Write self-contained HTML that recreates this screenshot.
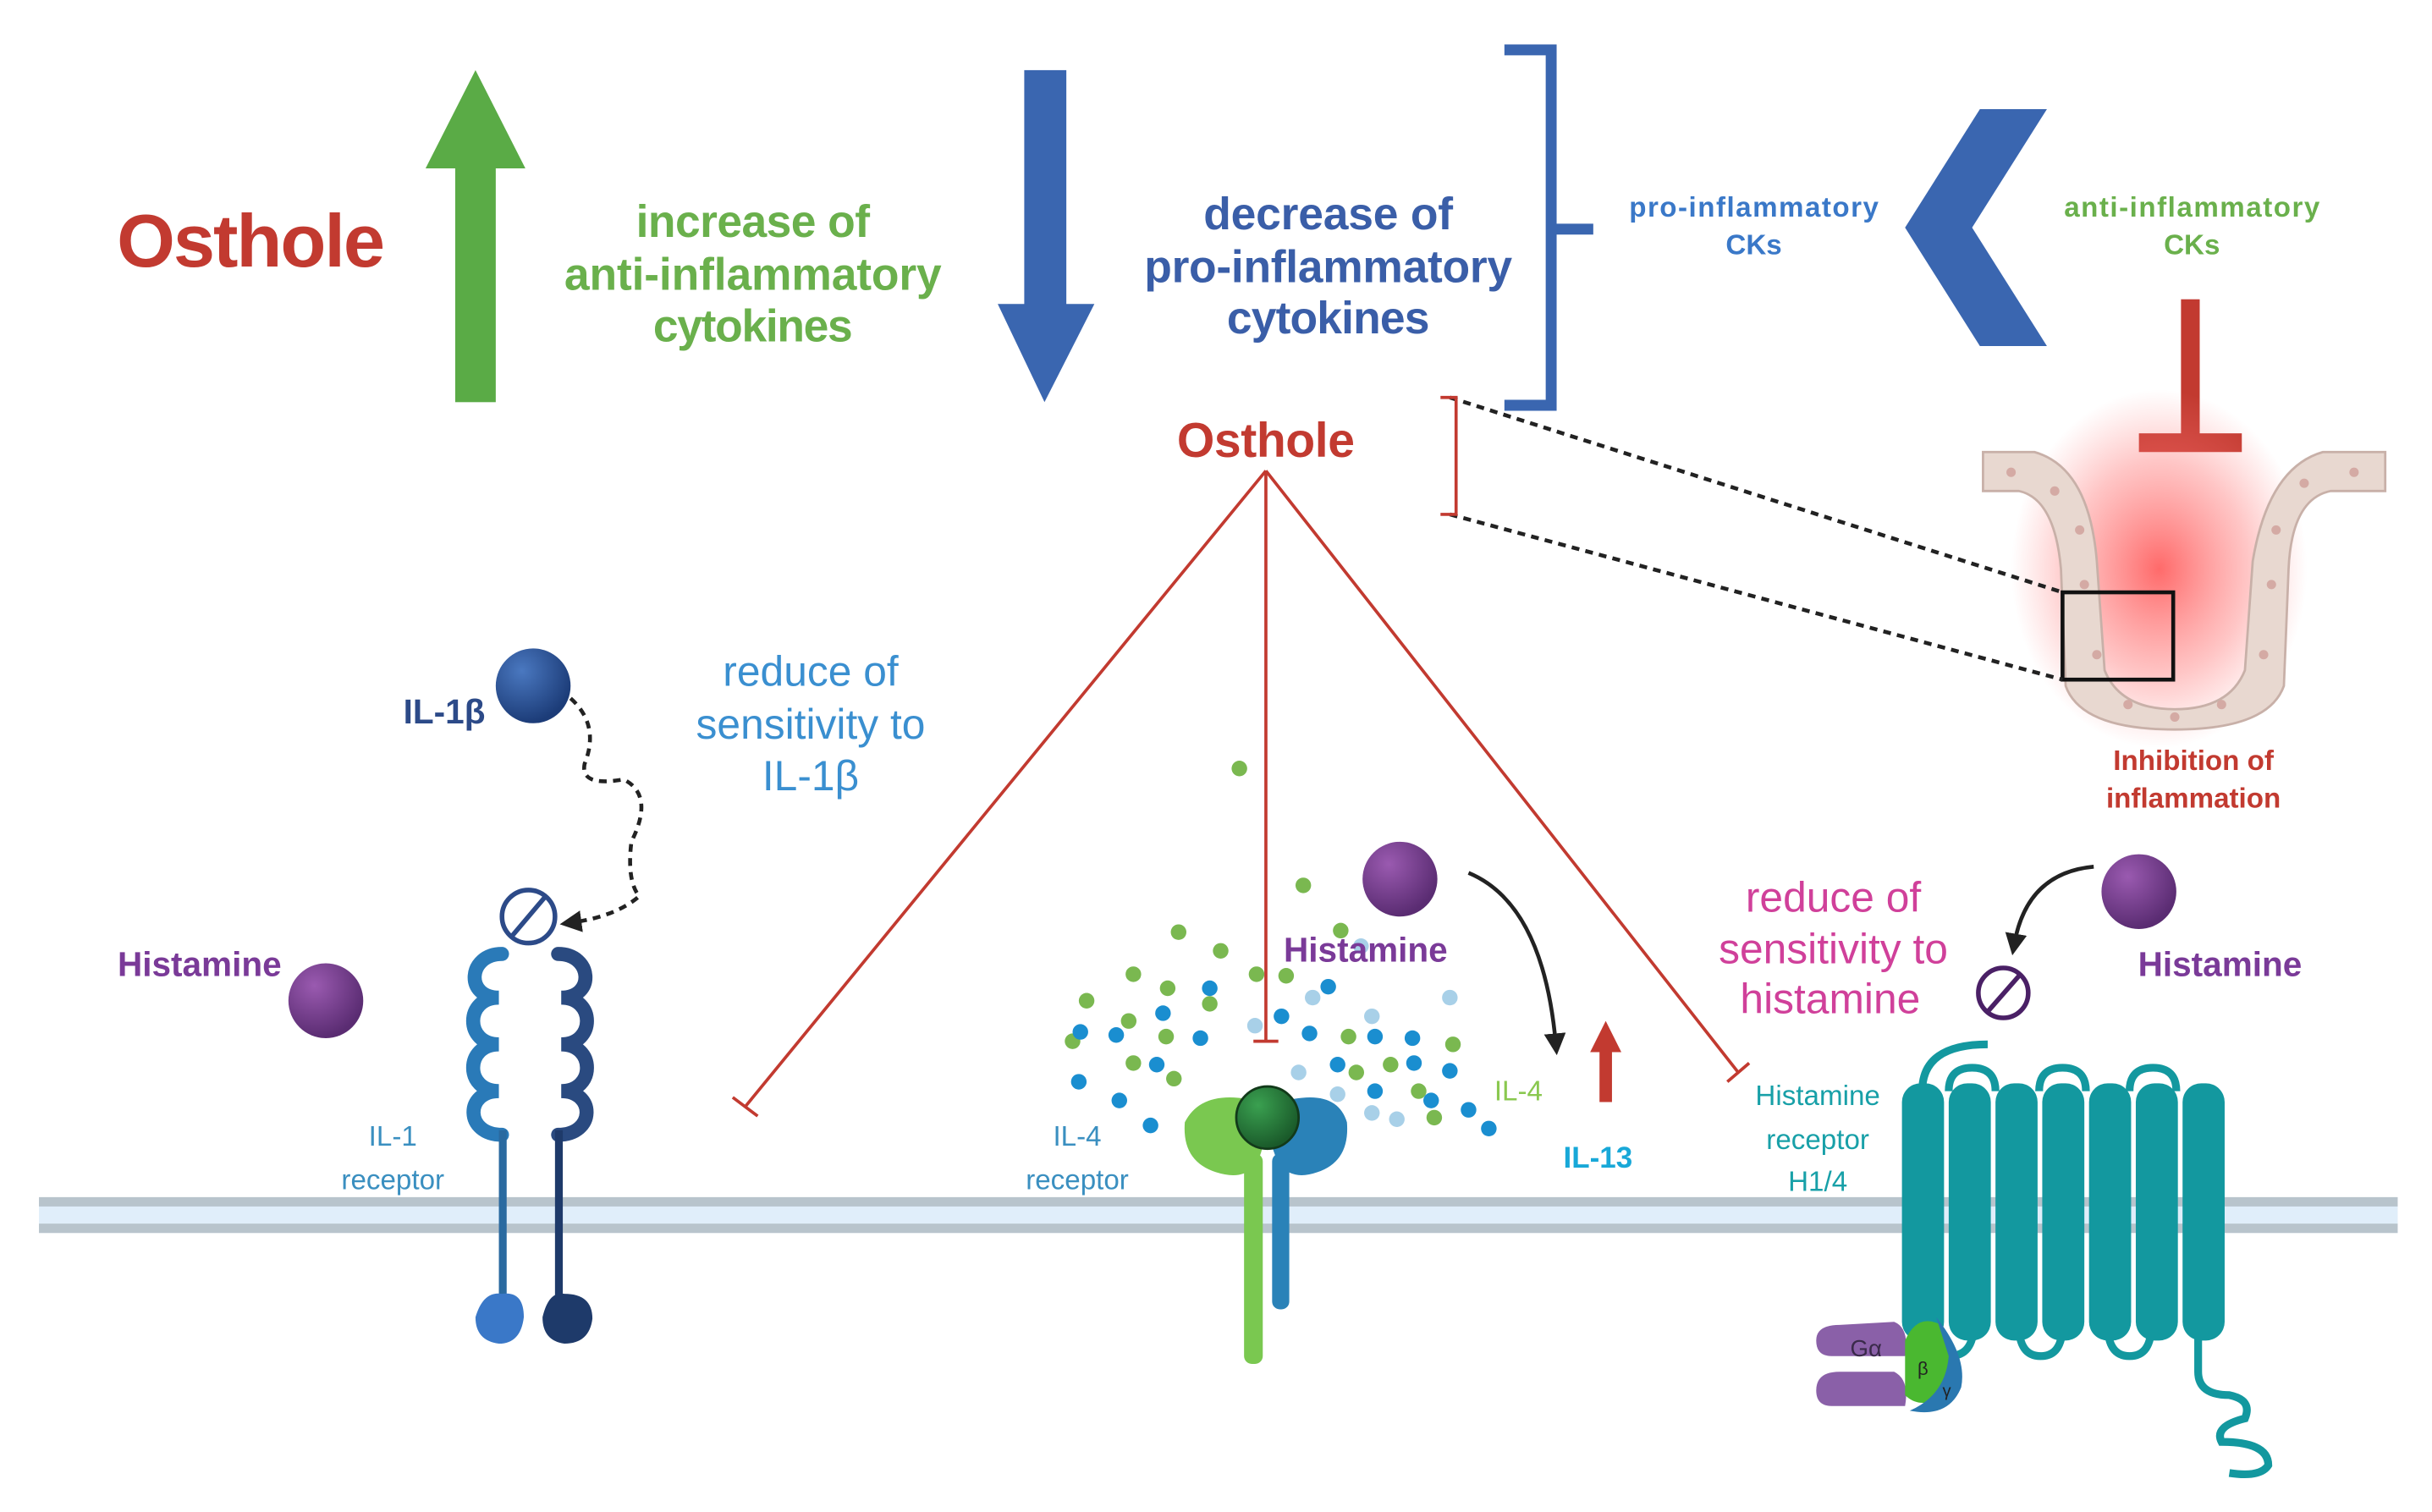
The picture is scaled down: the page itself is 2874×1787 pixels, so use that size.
<!DOCTYPE html>
<html><head><meta charset="utf-8"><style>
html,body{margin:0;padding:0;background:#fff;}
svg{display:block;}
text{font-family:"Liberation Sans",sans-serif;}
</style></head><body>
<svg width="2874" height="1787" viewBox="0 0 1560 970" preserveAspectRatio="none" xmlns="http://www.w3.org/2000/svg">
<defs>
<radialGradient id="glow" cx="50%" cy="50%" r="50%">
<stop offset="0" stop-color="#ff5050" stop-opacity="0.85"/>
<stop offset="0.6" stop-color="#ff7070" stop-opacity="0.4"/>
<stop offset="1" stop-color="#ff8080" stop-opacity="0"/>
</radialGradient>
<radialGradient id="purp" cx="35%" cy="30%" r="70%"><stop offset="0" stop-color="#9a5ab0"/><stop offset="1" stop-color="#5a2c72"/></radialGradient>
<radialGradient id="blu" cx="35%" cy="30%" r="70%"><stop offset="0" stop-color="#4a78c0"/><stop offset="1" stop-color="#1c3c78"/></radialGradient>
<radialGradient id="grn" cx="35%" cy="30%" r="70%"><stop offset="0" stop-color="#3aa050"/><stop offset="1" stop-color="#1a5a2a"/></radialGradient>
<marker id="ah" markerWidth="8" markerHeight="8" refX="5" refY="4" orient="auto" markerUnits="userSpaceOnUse"><path d="M0,0 L8,4 L0,8 Z" fill="#222"/></marker>
<marker id="ah2" markerWidth="14" markerHeight="14" refX="7" refY="7" orient="auto" markerUnits="userSpaceOnUse"><path d="M0,0 L14,7 L0,14 Z" fill="#222"/></marker>
</defs>

<!-- top -->
<text x="161" y="171" font-size="48" font-weight="bold" fill="#c23a30" text-anchor="middle" textLength="172">Osthole</text>
<rect x="292" y="105" width="26" height="153" fill="#5aab46"/>
<polygon points="273,108 337,108 305,45" fill="#5aab46"/>
<g font-size="29" font-weight="bold" fill="#6ab04c" text-anchor="middle">
<text x="483" y="152" textLength="150">increase of</text>
<text x="483" y="186" textLength="242">anti-inflammatory</text>
<text x="483" y="219" textLength="128">cytokines</text>
</g>
<rect x="657" y="45" width="27" height="152" fill="#3a66b0"/>
<polygon points="640,195 702,195 670,258" fill="#3a66b0"/>
<g font-size="29" font-weight="bold" fill="#3a5ea8" text-anchor="middle">
<text x="852" y="147" textLength="160">decrease of</text>
<text x="852" y="181" textLength="236">pro-inflammatory</text>
<text x="852" y="214" textLength="130">cytokines</text>
</g>
<path d="M965,32 H995 V260 H965 M995,147 H1022" fill="none" stroke="#3a66b0" stroke-width="7"/>
<g font-size="18" font-weight="bold" fill="#3a78c8" text-anchor="middle">
<text x="1125" y="139" textLength="160">pro-inflammatory</text>
<text x="1125" y="163">CKs</text>
</g>
<polygon points="1222,146 1270,70 1313,70 1265,146 1313,222 1270,222" fill="#3a66b0"/>
<g font-size="18" font-weight="bold" fill="#6ab04c" text-anchor="middle">
<text x="1406" y="139" textLength="164">anti-inflammatory</text>
<text x="1406" y="163">CKs</text>
</g>
<rect x="1399" y="192" width="12" height="90" fill="#c23a30"/>
<rect x="1372" y="278" width="66" height="12" fill="#c23a30"/>

<!-- crypt -->
<ellipse cx="1385" cy="365" rx="95" ry="115" fill="url(#glow)"/>
<path d="M1272,290 H1305 Q1340,300 1345,360 L1350,430 Q1360,455 1395,455 Q1430,455 1440,430 L1445,360 Q1455,300 1490,290 H1530 V315 H1495 Q1470,320 1468,365 L1465,440 Q1455,468 1395,468 Q1335,468 1325,440 L1322,365 Q1318,320 1295,315 H1272 Z" fill="#e8d8d0" stroke="#c8b0a8" stroke-width="1.5"/>
<g fill="#d4aaa4">
<circle cx="1290" cy="303" r="3"/><circle cx="1318" cy="315" r="3"/><circle cx="1334" cy="340" r="3"/><circle cx="1337" cy="375" r="3"/><circle cx="1345" cy="420" r="3"/><circle cx="1365" cy="452" r="3"/><circle cx="1395" cy="460" r="3"/><circle cx="1425" cy="452" r="3"/><circle cx="1452" cy="420" r="3"/><circle cx="1457" cy="375" r="3"/><circle cx="1460" cy="340" r="3"/><circle cx="1478" cy="310" r="3"/><circle cx="1510" cy="303" r="3"/>
</g>
<rect x="1323" y="380" width="71" height="56" fill="none" stroke="#111" stroke-width="2.5"/>
<path d="M930,255 L1323,380 M930,330 L1323,436" stroke="#222" stroke-width="2.5" stroke-dasharray="5,4"/>
<path d="M924,255 H934 V330 H924" fill="none" stroke="#c23a30" stroke-width="2"/>
<g font-size="18" font-weight="bold" fill="#c23a30" text-anchor="middle">
<text x="1407" y="494">Inhibition of</text>
<text x="1407" y="518">inflammation</text>
</g>

<!-- osthole center -->
<text x="812" y="293" font-size="31" font-weight="bold" fill="#c23a30" text-anchor="middle" textLength="114">Osthole</text>
<g stroke="#c23a30" stroke-width="2" fill="none">
<path d="M812,302 L478,710 M470,704 L486,716"/>
<path d="M812,302 V668 M804,668 H820"/>
<path d="M812,302 L1115,688 M1108,694 L1122,682"/>
</g>

<!-- membrane -->
<rect x="25" y="769" width="1513" height="22" fill="#e0eefa"/>
<rect x="25" y="768" width="1513" height="6" fill="#b8c4cc"/>
<rect x="25" y="785" width="1513" height="6" fill="#b8c4cc"/>

<!-- IL-1 side -->
<circle cx="342" cy="440" r="24" fill="url(#blu)"/>
<text x="285" y="464" font-size="22" font-weight="bold" fill="#2c4a88" text-anchor="middle">IL-1β</text>
<path d="M366,448 Q385,465 375,490 Q372,505 400,500 Q420,510 405,540 Q402,565 410,575 Q395,588 366,592" fill="none" stroke="#222" stroke-width="2.5" stroke-dasharray="5,4" marker-end="url(#ah2)"/>
<g font-size="27" fill="#3a8fd0" text-anchor="middle">
<text x="520" y="440">reduce of</text>
<text x="520" y="474">sensitivity to</text>
<text x="520" y="507">IL-1β</text>
</g>
<text x="128" y="626" font-size="22" font-weight="bold" fill="#7a3a98" text-anchor="middle">Histamine</text>
<circle cx="209" cy="642" r="24" fill="url(#purp)"/>
<circle cx="339" cy="588" r="17" fill="none" stroke="#2c4a88" stroke-width="3"/>
<path d="M328,601 L350,575" stroke="#2c4a88" stroke-width="3"/>
<!-- IL-1 receptor chains -->
<g fill="none" stroke-width="9" stroke-linecap="round">
<path d="M322,612 C300,612 298,640 320,640 C298,640 298,670 320,670 C298,670 298,700 320,700 C298,700 298,728 322,728" stroke="#2a7ab8"/>
<path d="M358,612 C380,612 382,640 360,640 C382,640 382,670 360,670 C382,670 382,700 360,700 C382,700 382,728 358,728" stroke="#2a4a80"/>
</g>
<rect x="320" y="725" width="5" height="110" fill="#2a6aa0"/>
<rect x="356" y="725" width="5" height="110" fill="#1e3a6a"/>
<path d="M305,845 Q310,828 322,830 Q336,828 336,845 Q334,862 320,862 Q305,860 305,845 Z" fill="#3a78c8"/>
<path d="M348,845 Q352,828 362,830 Q380,830 380,846 Q378,862 362,862 Q348,860 348,845 Z" fill="#1e3a6a"/>
<g font-size="18" fill="#3a8fc0" text-anchor="middle">
<text x="252" y="735">IL-1</text>
<text x="252" y="763">receptor</text>
</g>

<!-- IL-4 center -->
<g fill="#7ab850">
<circle cx="795" cy="493" r="5"/><circle cx="836" cy="568" r="5"/><circle cx="756" cy="598" r="5"/><circle cx="860" cy="597" r="5"/><circle cx="783" cy="610" r="5"/><circle cx="727" cy="625" r="5"/><circle cx="749" cy="634" r="5"/><circle cx="697" cy="642" r="5"/><circle cx="724" cy="655" r="5"/><circle cx="748" cy="665" r="5"/><circle cx="688" cy="668" r="5"/><circle cx="727" cy="682" r="5"/><circle cx="753" cy="692" r="5"/><circle cx="776" cy="644" r="5"/><circle cx="806" cy="625" r="5"/><circle cx="825" cy="626" r="5"/><circle cx="892" cy="683" r="5"/><circle cx="910" cy="700" r="5"/><circle cx="920" cy="717" r="5"/><circle cx="865" cy="665" r="5"/><circle cx="870" cy="688" r="5"/><circle cx="932" cy="670" r="5"/>
</g>
<g fill="#1a8ed0">
<circle cx="776" cy="634" r="5"/><circle cx="746" cy="650" r="5"/><circle cx="716" cy="664" r="5"/><circle cx="693" cy="662" r="5"/><circle cx="770" cy="666" r="5"/><circle cx="742" cy="683" r="5"/><circle cx="692" cy="694" r="5"/><circle cx="718" cy="706" r="5"/><circle cx="738" cy="722" r="5"/><circle cx="776" cy="722" r="5"/><circle cx="822" cy="652" r="5"/><circle cx="840" cy="663" r="5"/><circle cx="852" cy="633" r="5"/><circle cx="858" cy="683" r="5"/><circle cx="882" cy="665" r="5"/><circle cx="906" cy="666" r="5"/><circle cx="907" cy="682" r="5"/><circle cx="930" cy="687" r="5"/><circle cx="918" cy="706" r="5"/><circle cx="942" cy="712" r="5"/><circle cx="955" cy="724" r="5"/><circle cx="882" cy="700" r="5"/>
</g>
<g fill="#a8d0e8">
<circle cx="873" cy="607" r="5"/><circle cx="930" cy="640" r="5"/><circle cx="880" cy="652" r="5"/><circle cx="833" cy="688" r="5"/><circle cx="858" cy="702" r="5"/><circle cx="880" cy="714" r="5"/><circle cx="896" cy="718" r="5"/><circle cx="805" cy="658" r="5"/><circle cx="842" cy="640" r="5"/>
</g>
<path d="M760,720 Q770,700 800,705 Q812,712 810,735 Q805,760 780,752 Q758,745 760,720 Z" fill="#7ac850"/>
<path d="M864,720 Q858,700 830,705 Q815,712 816,735 Q822,760 845,752 Q866,745 864,720 Z" fill="#2a82b8"/>
<rect x="798" y="740" width="12" height="135" rx="5" fill="#7ac850"/>
<rect x="816" y="740" width="11" height="100" rx="5" fill="#2a82b8"/>
<circle cx="813" cy="717" r="20" fill="url(#grn)" stroke="#123a1a" stroke-width="1.5"/>
<circle cx="898" cy="564" r="24" fill="url(#purp)"/>
<text x="876" y="617" font-size="22" font-weight="bold" fill="#7a3a98" text-anchor="middle">Histamine</text>
<path d="M942,560 Q990,580 998,670" fill="none" stroke="#222" stroke-width="2.5" marker-end="url(#ah2)"/>
<rect x="1026" y="672" width="8" height="35" fill="#c23a30"/>
<polygon points="1020,675 1040,675 1030,655" fill="#c23a30"/>
<text x="974" y="706" font-size="18" fill="#8ac850" text-anchor="middle">IL-4</text>
<text x="1025" y="749" font-size="19" font-weight="bold" fill="#18a8d8" text-anchor="middle">IL-13</text>
<g font-size="18" fill="#3a8fc0" text-anchor="middle">
<text x="691" y="735">IL-4</text>
<text x="691" y="763">receptor</text>
</g>

<!-- right histamine -->
<g font-size="27" fill="#d0409a" text-anchor="middle">
<text x="1176" y="585">reduce of</text>
<text x="1176" y="618">sensitivity to</text>
<text x="1174" y="650">histamine</text>
</g>
<circle cx="1372" cy="572" r="24" fill="url(#purp)"/>
<text x="1424" y="626" font-size="22" font-weight="bold" fill="#7a3a98" text-anchor="middle">Histamine</text>
<path d="M1343,556 Q1300,560 1292,606" fill="none" stroke="#222" stroke-width="2.5" marker-end="url(#ah2)"/>
<circle cx="1285" cy="637" r="16" fill="none" stroke="#4a2066" stroke-width="3"/>
<path d="M1275,649 L1296,625" stroke="#4a2066" stroke-width="3"/>
<g font-size="18" fill="#18a0a8" text-anchor="middle">
<text x="1166" y="709">Histamine</text>
<text x="1166" y="737">receptor</text>
<text x="1166" y="764">H1/4</text>
</g>
<!-- GPCR -->
<g fill="none" stroke="#13989f" stroke-width="5">
<path d="M1233,700 Q1233,670 1275,670"/>
<path d="M1250,700 Q1250,685 1265,685 Q1280,685 1280,700"/>
<path d="M1308,700 Q1308,685 1323,685 Q1338,685 1338,700"/>
<path d="M1366,700 Q1366,685 1381,685 Q1396,685 1396,700"/>
<path d="M1236,850 Q1236,870 1250,870 Q1266,870 1266,850"/>
<path d="M1295,850 Q1295,870 1309,870 Q1323,870 1323,850"/>
<path d="M1352,850 Q1352,870 1366,870 Q1380,870 1380,850"/>
<path d="M1410,850 V880 Q1410,895 1430,895 Q1445,898 1440,910 Q1420,915 1425,925 Q1455,925 1455,940 Q1450,948 1430,945"/>
</g>
<g fill="#13989f">
<rect x="1220" y="695" width="27" height="165" rx="12"/>
<rect x="1250" y="695" width="27" height="165" rx="12"/>
<rect x="1280" y="695" width="27" height="165" rx="12"/>
<rect x="1310" y="695" width="27" height="165" rx="12"/>
<rect x="1340" y="695" width="27" height="165" rx="12"/>
<rect x="1370" y="695" width="27" height="165" rx="12"/>
<rect x="1400" y="695" width="27" height="165" rx="12"/>
</g>
<path d="M1165,860 Q1165,850 1180,850 L1215,848 Q1225,852 1222,870 H1175 Q1165,870 1165,860 Z" fill="#8a60a8"/>
<path d="M1165,892 Q1165,880 1180,880 L1215,880 Q1225,885 1222,902 H1175 Q1165,902 1165,892 Z" fill="#8a60a8"/>
<path d="M1222,860 Q1230,842 1245,850 Q1255,870 1248,895 Q1232,905 1222,895 Z" fill="#4ab830"/>
<path d="M1242,845 Q1262,870 1258,890 Q1250,910 1225,905 Q1248,895 1250,870 Z" fill="#2a78b0"/>
<text x="1197" y="870" font-size="15" fill="#3a2a4a" text-anchor="middle">Gα</text>
<text x="1230" y="882" font-size="12" fill="#222">β</text>
<text x="1246" y="896" font-size="11" fill="#222">γ</text>
</svg>
</body></html>
